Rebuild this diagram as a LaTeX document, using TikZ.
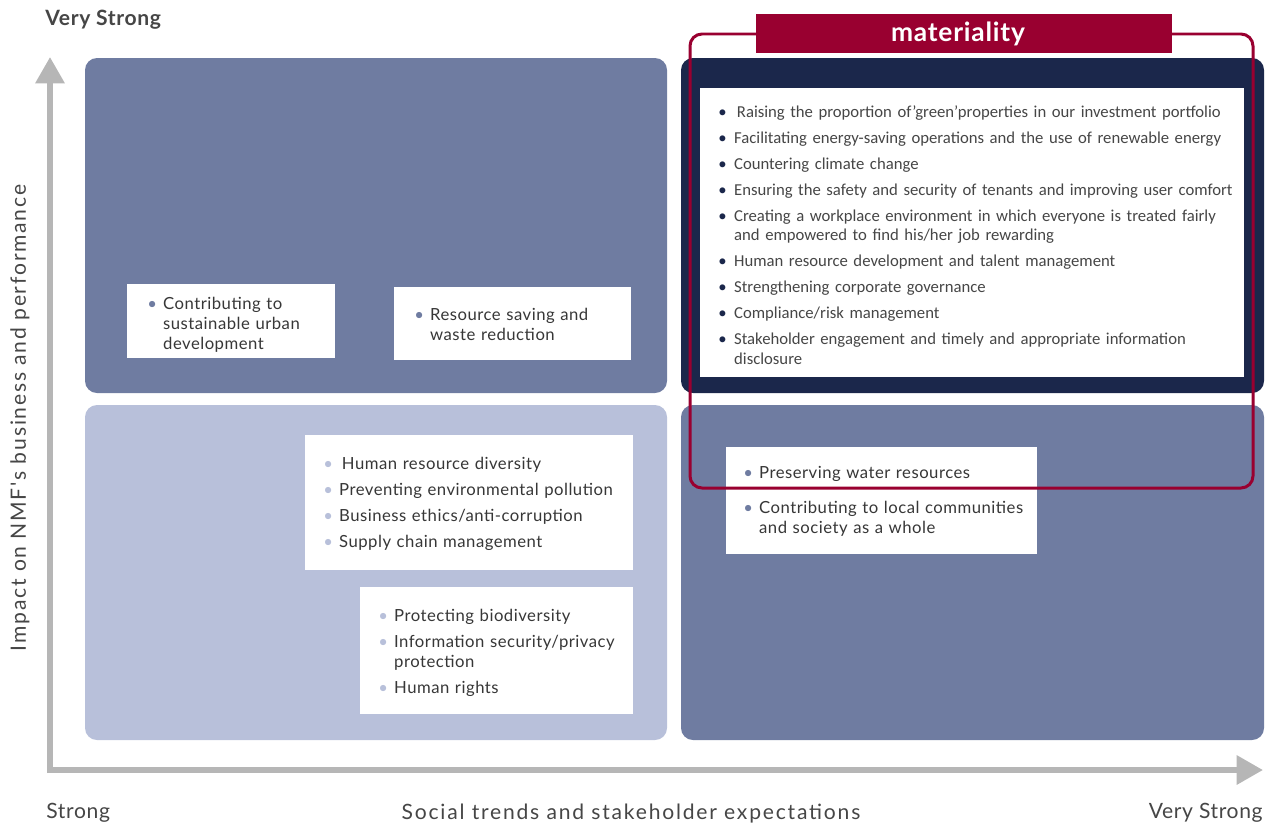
\documentclass[tikz,border=0pt]{standalone}
\usepackage{fontspec}
\setmainfont{Lato}[LetterSpace=3]
\newfontfamily\listfont{Carlito}
\newfontfamily\axfont{Lato}[LetterSpace=8.5]
\usetikzlibrary{arrows.meta}
\definecolor{midblue}{RGB}{111,124,161}
\definecolor{paleblue}{RGB}{184,192,218}
\definecolor{navy}{RGB}{27,39,75}
\definecolor{matred}{RGB}{153,0,48}
\definecolor{axisgray}{RGB}{182,182,182}
\definecolor{textgray}{RGB}{55,55,55}
\definecolor{labelgray}{RGB}{70,70,70}

% one bullet item, lines after the first hang under the text
\newcommand{\bitem}[2]{\par\hangindent=9pt\hangafter=1\noindent\makebox[9pt][l]{\textcolor{#1}{\textbullet}}#2\par}

\begin{document}
\begin{tikzpicture}[x=0.02cm, y=-0.02cm,
    quad/.style={rounded corners=0.24cm},
    wbox/.style={fill=white},
    items/.style={anchor=west, inner sep=0pt, text width=#1, text=textgray,
        font=\fontsize{9.5}{11.3}\selectfont, execute at begin node={\setlength{\parskip}{3.4pt}}},
    axis/.style={draw=axisgray, line width=3.4pt, -{Triangle[length=15pt,width=16pt]}},
    axlabel/.style={inner sep=0pt, text=labelgray, font=\fontsize{12}{14}\selectfont},
    axname/.style={axlabel, font=\axfont\fontsize{12}{14}\selectfont}]

    \useasboundingbox (0,0) rectangle (1280,825);

    % quadrants
    \fill[quad, midblue] (85,58) rectangle (667,393);
    \fill[quad, paleblue] (85,405) rectangle (667,740);
    \fill[quad, navy] (681,58) rectangle (1264,393);
    \fill[quad, midblue] (681,405) rectangle (1264,740);

    % axes
    \coordinate (origin) at (50,770);
    \coordinate (ytip) at (50,57);
    \coordinate (xtip) at (1263,770);
    \draw[axis] (50,773) -- (ytip);
    \draw[axis] (47,770) -- (xtip);

    % axis labels
    \node[axlabel, anchor=west, font=\bfseries\fontsize{12}{14}\selectfont] (ytop) at (45,20) {Very Strong};
    \node[axlabel, anchor=west] (xlow) at (46,813) {Strong};
    \node[axlabel, anchor=east] (xhigh) at (1263,813) {Very Strong};
    \node[axname] (xname) at (631,814) {Social trends and stakeholder expectations};
    \node[axname, rotate=90] (yname) at (20,418) {Impact on NMF's business and performance};

    % top left
    \fill[wbox] (127,284) rectangle (335,358);
    \node[items=5cm] (urban) at (147,318) {\bitem{midblue}{Contributing to\newline sustainable urban\newline development}};
    \fill[wbox] (394,287) rectangle (631,360);
    \node[items=5cm] (waste) at (414,318) {\bitem{midblue}{Resource saving and\newline waste reduction}};

    % bottom left
    \fill[wbox] (305,435) rectangle (633,570);
    \node[items=7cm] (diversity) at (323,497) {%
        \bitem{paleblue}{\,Human resource diversity}
        \bitem{paleblue}{Preventing environmental pollution}
        \bitem{paleblue}{Business ethics/anti-corruption}
        \bitem{paleblue}{Supply chain management}};
    \fill[wbox] (360,587) rectangle (633,714);
    \node[items=6cm] (biodiv) at (378,646) {%
        \bitem{paleblue}{Protecting biodiversity}
        \bitem{paleblue}{Information security/privacy\newline protection}
        \bitem{paleblue}{Human rights}};

    % bottom right
    \fill[wbox] (726,447) rectangle (1037,554);
    \node[items=7cm, execute at begin node={\setlength{\parskip}{8.5pt}}] (water) at (743,490) {%
        \bitem{midblue}{Preserving water resources}
        \bitem{midblue}{Contributing to local communities\newline and society as a whole}};

    % top right
    \fill[wbox] (700,88) rectangle (1244,377);
    \node[items=11cm, text=labelgray, font=\listfont\fontsize{9.5}{11.3}\selectfont] (material) at (718,228) {%
        \bitem{navy}{\,Raising the proportion of’green’properties in our investment portfolio}
        \bitem{navy}{Facilitating energy-saving operations and the use of renewable energy}
        \bitem{navy}{Countering climate change}
        \bitem{navy}{Ensuring the safety and security of tenants and improving user comfort}
        \bitem{navy}{Creating a workplace environment in which everyone is treated fairly\newline and empowered to find his/her job rewarding}
        \bitem{navy}{Human resource development and talent management}
        \bitem{navy}{Strengthening corporate governance}
        \bitem{navy}{Compliance/risk management}
        \bitem{navy}{Stakeholder engagement and timely and appropriate information\newline disclosure}};

    % materiality frame
    \draw[matred, line width=1.7pt, rounded corners=0.24cm] (690,34) rectangle (1253,488);
    \node[fill=matred, minimum width=8.32cm, minimum height=0.78cm, text=white,
        font=\bfseries\fontsize{15}{17}\selectfont] (mat) at (964,33.5) {\kern-0.24cm materiality};
\end{tikzpicture}
\end{document}
